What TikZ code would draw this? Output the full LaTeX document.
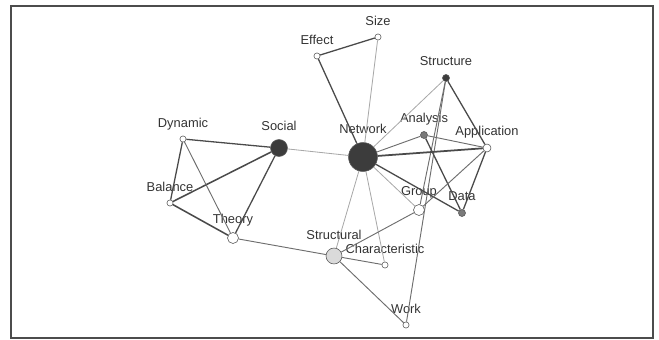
\documentclass[tikz,border=0pt]{standalone}
\usepackage{fontspec}
\setmainfont{Liberation Sans}
\definecolor{nodedark}{HTML}{3C3C3C}
\definecolor{nodegray}{HTML}{7A7A7A}
\definecolor{nodelight}{HTML}{DADADA}
\definecolor{edgedark}{HTML}{4A4A4A}
\definecolor{edgemid}{HTML}{6E6E6E}
\definecolor{edgelight}{HTML}{A8A8A8}

\begin{document}
\begin{tikzpicture}[x=0.03cm, y=-0.03cm,
    term/.style={circle, draw=black!65, fill=white, line width=0.5pt, inner sep=0pt, minimum size=5.2pt},
    lab/.style={font=\fontsize{11}{13}\selectfont, text=black!80, inner sep=1pt, text height=8pt, text depth=2pt},
    strong/.style={draw=edgedark, line width=1.1pt},
    medium/.style={draw=edgemid, line width=0.8pt},
    weak/.style={draw=edgelight, line width=0.7pt},
    label distance=4pt, every label/.style={lab}]
    \useasboundingbox (0,0) rectangle (659,340);
    \draw[black!70, line width=1pt] (11,6) rectangle (653,338);

            \node[term] (size) at (378, 37) [label=above:Size] {};
            \node[term] (effect) at (317, 56) [label=above:Effect] {};
            \node[term, fill=nodedark, minimum size=6pt] (structure) at (446, 78) [label=above:Structure] {};
            \node[term] (dynamic) at (183, 139) [label=above:Dynamic] {};
            \node[term, fill=nodedark, minimum size=14.5pt] (social) at (279, 148) [label=above:Social] {};
            \node[term, fill=nodedark, minimum size=24.7pt] (network) at (363, 157) [label=above:Network] {};
            \node[term, fill=nodegray, minimum size=6pt] (analysis) at (424, 135) [label=above:Analysis] {};
            \node[term, minimum size=6.8pt] (application) at (487, 148) [label=above:Application] {};
            \node[term] (balance) at (170, 203) [label=above:Balance] {};
            \node[term, minimum size=9.4pt] (group) at (419, 210) [label=above:Group] {};
            \node[term, fill=nodegray, minimum size=6pt] (data) at (462, 213) [label=above:Data] {};
            \node[term, minimum size=9.4pt] (theory) at (233, 238) [label=above:Theory] {};
            \node[term, fill=nodelight, minimum size=13.6pt] (structural) at (334, 256) [label=above:Structural] {};
            \node[term] (characteristic) at (385, 265) [label=above:Characteristic] {};
            \node[term] (work) at (406, 325) [label=above:Work] {};

            \draw[strong] (effect) to (size);
            \draw[strong] (effect) to (network);
            \draw[weak] (size) to (network);
            \draw[weak] (structure) to (network);
            \draw[strong] (structure) to (application);
            \draw[medium] (structure) to (group);
            \draw[medium] (structure) to (work);
            \draw[medium] (analysis) to (network);
            \draw[medium] (analysis) to (application);
            \draw[strong] (analysis) to (data);
            \draw[strong, line width=1.5pt] (network) to (application);
            \draw[strong] (network) to (data);
            \draw[weak] (network) to (group);
            \draw[weak] (network) to (structural);
            \draw[weak] (network) to (characteristic);
            \draw[weak] (network) to (social);
            \draw[medium] (application) to (group);
            \draw[strong] (application) to (data);
            \draw[medium] (group) to (structural);
            \draw[strong] (social) to (dynamic);
            \draw[strong, line width=1.3pt] (social) to (balance);
            \draw[strong] (social) to (theory);
            \draw[strong] (dynamic) to (balance);
            \draw[medium] (dynamic) to (theory);
            \draw[strong, line width=1.3pt] (balance) to (theory);
            \draw[medium] (theory) to (structural);
            \draw[medium] (structural) to (characteristic);
            \draw[medium] (structural) to (work);
        \end{tikzpicture}
\end{document}
